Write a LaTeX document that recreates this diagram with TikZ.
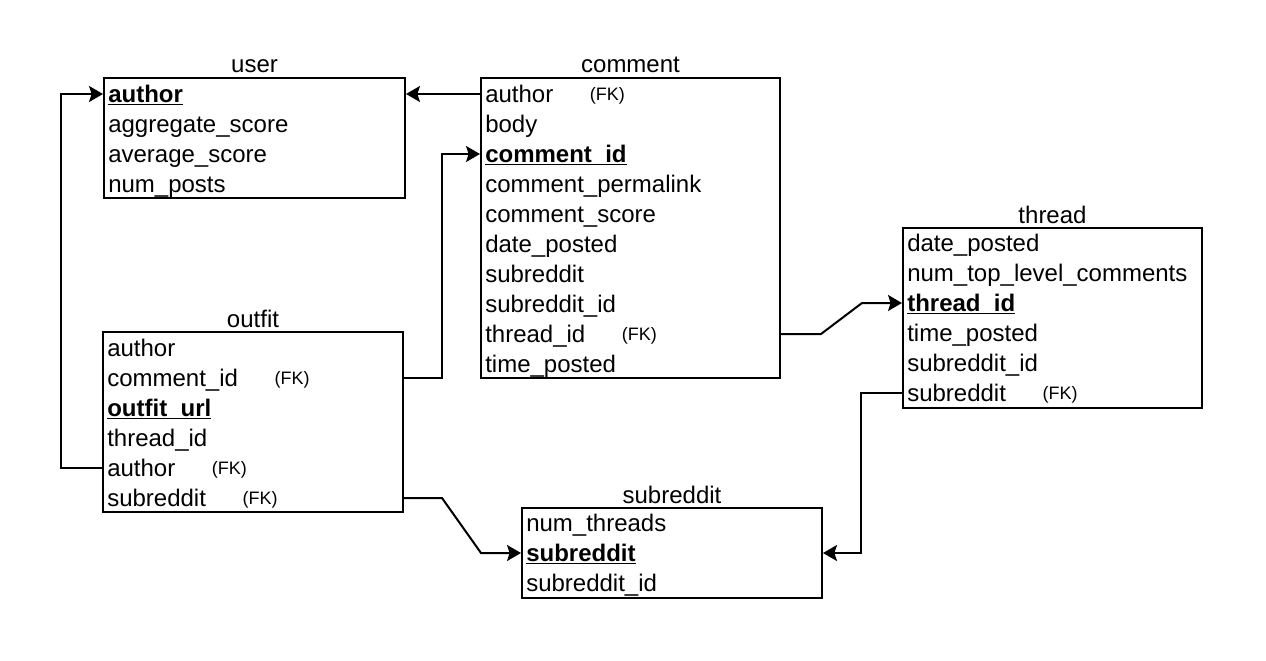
\documentclass[tikz,border=0pt]{standalone}
\usepackage{fontspec}
\setmainfont{Liberation Sans}
\usetikzlibrary{positioning,fit,arrows.meta}
\newcommand{\pkey}[1]{\underline{\smash{\textbf{#1}}}}
\tikzset{
  tbl/.style={draw, line width=1.5pt, inner sep=0pt},
  ttl/.style={anchor=base, inner sep=0pt, font=\fontsize{18}{20}\selectfont},
  fld/.style={anchor=west, inner sep=0pt, text height=16pt, text depth=4pt, font=\fontsize{18}{20}\selectfont},
  fkey/.style={anchor=west, inner sep=0pt, yshift=-1.5pt, font=\fontsize{13.5}{15}\selectfont},
  link/.style={line width=1.5pt, -{Stealth[length=10.5pt,width=12pt,inset=2pt]}}
}
\begin{document}
\begin{tikzpicture}[x=0.75pt,y=-0.75pt]
	\useasboundingbox (0,0) rectangle (1266,660);
	% tables
	\node[tbl, fit={(104,78) (405,198)}] (user) {};
	\node[tbl, fit={(481,78) (780,378)}] (comment) {};
	\node[tbl, fit={(903,228) (1202,408)}] (thread) {};
	\node[tbl, fit={(103,332) (403,512)}] (outfit) {};
	\node[tbl, fit={(522,508) (822,598)}] (subreddit) {};
	\node[ttl] (user-t) at ([yshift=3pt]user.north) {user};
	\node[ttl] (comment-t) at ([yshift=3pt]comment.north) {comment};
	\node[ttl] (thread-t) at ([yshift=3pt]thread.north) {thread};
	\node[ttl] (outfit-t) at ([yshift=3pt]outfit.north) {outfit};
	\node[ttl] (subreddit-t) at ([yshift=3pt]subreddit.north) {subreddit};
	% user
	\node[fld] (u1) at (108,94) {\pkey{author}};
	\node[fld] (u2) at (108,124) {aggregate\_score};
	\node[fld] (u3) at (108,154) {average\_score};
	\node[fld] (u4) at (108,184) {num\_posts};
	% comment
	\node[fld] (c1) at (485,94) {author};
	\node[fld] (c2) at (485,124) {body};
	\node[fld] (c3) at (485,154) {\pkey{comment\_id}};
	\node[fld] (c4) at (485,184) {comment\_permalink};
	\node[fld] (c5) at (485,214) {comment\_score};
	\node[fld] (c6) at (485,244) {date\_posted};
	\node[fld] (c7) at (485,274) {subreddit};
	\node[fld] (c8) at (485,304) {subreddit\_id};
	\node[fld] (c9) at (485,334) {thread\_id};
	\node[fld] (c10) at (485,364) {time\_posted};
	\node[fkey, right=27pt of c1] (c1-fk) {(FK)};
	\node[fkey, right=27pt of c9] (c9-fk) {(FK)};
	% thread
	\node[fld] (t1) at (907,243) {date\_posted};
	\node[fld] (t2) at (907,273) {num\_top\_level\_comments};
	\node[fld] (t3) at (907,303) {\pkey{thread\_id}};
	\node[fld] (t4) at (907,333) {time\_posted};
	\node[fld] (t5) at (907,363) {subreddit\_id};
	\node[fld] (t6) at (907,393) {subreddit};
	\node[fkey, right=27pt of t6] (t6-fk) {(FK)};
	% outfit
	\node[fld] (o1) at (107,348) {author};
	\node[fld] (o2) at (107,378) {comment\_id};
	\node[fld] (o3) at (107,408) {\pkey{outfit\_url}};
	\node[fld] (o4) at (107,438) {thread\_id};
	\node[fld] (o5) at (107,468) {author};
	\node[fld] (o6) at (107,498) {subreddit};
	\node[fkey, right=27pt of o2] (o2-fk) {(FK)};
	\node[fkey, right=27pt of o5] (o5-fk) {(FK)};
	\node[fkey, right=27pt of o6] (o6-fk) {(FK)};
	% subreddit
	\node[fld] (s1) at (526,523) {num\_threads};
	\node[fld] (s2) at (526,553) {\pkey{subreddit}};
	\node[fld] (s3) at (526,583) {subreddit\_id};
	% foreign keys
	\draw[link] (comment.west |- c1.west) -- (user.east |- c1.west);
	\draw[link] (outfit.west |- o5.west) -- ++(-41,0) |- (user.west |- u1.west);
	\draw[link] (outfit.east |- o2.west) -- ++(38,0) |- (comment.west |- c3.west);
	\draw[link] (comment.east |- c9.west) -- ++(40,0) -- ([xshift=-30pt]thread.west |- t3.west) -- (thread.west |- t3.west);
	\draw[link] (thread.west |- t6.west) -- ++(-41,0) |- (subreddit.east |- s2.west);
	\draw[link] (outfit.east |- o6.west) -- ++(38,0) -- ([xshift=-30pt]subreddit.west |- s2.west) -- (subreddit.west |- s2.west);
\end{tikzpicture}
\end{document}
